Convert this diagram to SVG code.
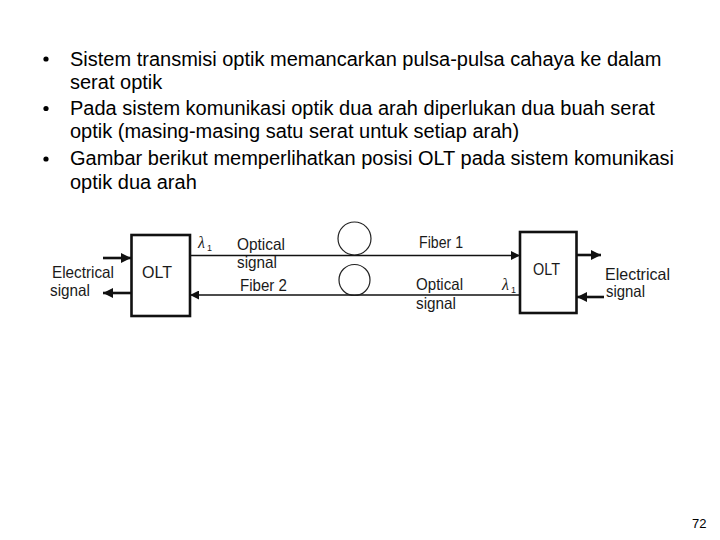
<svg xmlns="http://www.w3.org/2000/svg" width="720" height="540" viewBox="0 0 720 540">
<style>
.b{font-family:"Liberation Sans",Arial,sans-serif;font-size:20px;fill:#000}
.d{font-family:"Liberation Sans",Arial,sans-serif;font-size:16.5px;fill:#1a1a1a}
.o{font-family:"Liberation Sans",Arial,sans-serif;font-size:16.5px;fill:#1a1a1a}
.l{font-family:"Liberation Serif","Times New Roman",serif;font-style:italic;font-size:16px;fill:#1a1a1a}
.s{font-family:"Liberation Sans",Arial,sans-serif;font-size:9px;fill:#1a1a1a}
.box{fill:#fff;stroke:#111;stroke-width:2.6}
.f{stroke:#111;stroke-width:1.3;fill:none}
.e{stroke:#111;stroke-width:2.6;fill:none}
.c{stroke:#222;stroke-width:1.2;fill:none}
</style>
<defs>
<marker id="ah" viewBox="0 0 10 10" refX="10" refY="5" markerWidth="10" markerHeight="9" markerUnits="userSpaceOnUse" orient="auto"><path d="M0,0 L10,5 L0,10 Z" fill="#111"/></marker>
<marker id="ahe" viewBox="0 0 10 10" refX="10" refY="5" markerWidth="11" markerHeight="10" markerUnits="userSpaceOnUse" orient="auto"><path d="M0,0 L10,5 L0,10 Z" fill="#111"/></marker>
</defs>
<rect width="720" height="540" fill="#fff"/>
<g id="bullets">
<circle cx="46" cy="59" r="2.6" fill="#000"/>
<text class="b" x="70" y="66">Sistem transmisi optik memancarkan pulsa-pulsa cahaya ke dalam</text>
<text class="b" x="70" y="89">serat optik</text>
<circle cx="46" cy="108.5" r="2.6" fill="#000"/>
<text class="b" x="70" y="115">Pada sistem komunikasi optik dua arah diperlukan dua buah serat</text>
<text class="b" x="70" y="138">optik (masing-masing satu serat untuk setiap arah)</text>
<circle cx="46" cy="159" r="2.6" fill="#000"/>
<text class="b" x="70" y="165">Gambar berikut memperlihatkan posisi OLT pada sistem komunikasi</text>
<text class="b" x="70" y="189">optik dua arah</text>
</g>
<g id="connectors">
<line class="e" x1="103" y1="258" x2="131" y2="258" marker-end="url(#ahe)"/>
<line class="e" x1="131" y1="293" x2="103" y2="293" marker-end="url(#ahe)"/>
<line class="f" x1="190" y1="255.5" x2="520" y2="255.5" marker-end="url(#ah)"/>
<line class="f" x1="520" y1="295" x2="190" y2="295" marker-end="url(#ah)"/>
<line class="e" x1="577" y1="255" x2="601" y2="255" marker-end="url(#ahe)"/>
<line class="e" x1="604" y1="297" x2="577" y2="297" marker-end="url(#ahe)"/>
</g>
<g id="coils">
<circle class="c" cx="354.5" cy="238.5" r="16.5"/>
<circle class="c" cx="354.5" cy="280" r="15.5"/>
</g>
<g id="olt-left">
<rect class="box" x="131.5" y="235" width="58.5" height="81"/>
<text class="o" x="142" y="278" textLength="30" lengthAdjust="spacingAndGlyphs">OLT</text>
</g>
<g id="olt-right">
<rect class="box" x="520" y="232" width="56.5" height="81"/>
<text class="o" x="533" y="275" textLength="27" lengthAdjust="spacingAndGlyphs">OLT</text>
</g>
<g id="labels">
<text class="d" x="52" y="278" textLength="62" lengthAdjust="spacingAndGlyphs">Electrical</text>
<text class="d" x="50" y="296" textLength="40" lengthAdjust="spacingAndGlyphs">signal</text>
<text class="l" x="198" y="248">λ</text><text class="s" x="207" y="251">1</text>
<text class="d" x="237" y="250" textLength="48" lengthAdjust="spacingAndGlyphs">Optical</text>
<text class="d" x="237" y="268" textLength="40" lengthAdjust="spacingAndGlyphs">signal</text>
<text class="d" x="240" y="291" textLength="47" lengthAdjust="spacingAndGlyphs">Fiber 2</text>
<text class="d" x="419" y="248" textLength="44" lengthAdjust="spacingAndGlyphs">Fiber 1</text>
<text class="d" x="416" y="290" textLength="47" lengthAdjust="spacingAndGlyphs">Optical</text>
<text class="d" x="416" y="309" textLength="40" lengthAdjust="spacingAndGlyphs">signal</text>
<text class="l" x="502" y="290">λ</text><text class="s" x="511" y="293">1</text>
<text class="d" x="605" y="280" textLength="65" lengthAdjust="spacingAndGlyphs">Electrical</text>
<text class="d" x="606" y="297" textLength="39" lengthAdjust="spacingAndGlyphs">signal</text>
</g>
<text id="page" x="692" y="528" style="font-family:'Liberation Sans',Arial,sans-serif;font-size:13px;fill:#000">72</text>
</svg>
